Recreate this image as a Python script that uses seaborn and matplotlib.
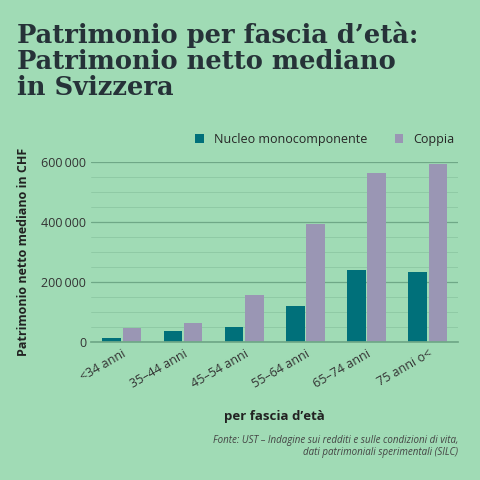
import matplotlib
matplotlib.use("Agg")
import matplotlib.pyplot as plt
import seaborn as sns
import pandas as pd
from matplotlib.ticker import MultipleLocator, FuncFormatter

categories = ["<34 anni", "35–44 anni", "45–54 anni", "55–64 anni", "65–74 anni", "75 anni o<"]
nucleo = [15000, 38000, 50000, 120000, 240000, 235000]
coppia = [48000, 65000, 158000, 395000, 565000, 595000]
series = ["Nucleo monocomponente", "Coppia"]

df = pd.DataFrame({
    "cat": categories * 2,
    "val": nucleo + coppia,
    "serie": [series[0]] * 6 + [series[1]] * 6,
})

bg = "#a0dbb5"
sns.set_theme(style="white")
plt.rcParams['font.family'] = ['Open Sans', 'DejaVu Sans']
fig = plt.figure(figsize=(4.8, 4.8), dpi=100, facecolor=bg)
ax = fig.add_axes([0.19, 0.287, 0.765, 0.375], facecolor=bg)
sns.barplot(data=df, x="cat", y="val", hue="serie", palette=["#00707a", "#9a96b4"],
            ax=ax, width=0.66, gap=0.08, saturation=1, linewidth=0, edgecolor="none")
ax.set_ylim(0, 600000)
ax.yaxis.set_major_locator(MultipleLocator(200000))
ax.yaxis.set_minor_locator(MultipleLocator(50000))
ax.yaxis.set_major_formatter(FuncFormatter(lambda v, p: f"{int(v):,}".replace(",", "\u2009") if v else "0"))
ax.grid(axis="y", which="major", color="#6fa887", lw=0.9)
ax.grid(axis="y", which="minor", color="#8cc7a2", lw=0.6)
ax.set_axisbelow(True)
for s in ["top", "right", "left"]:
    ax.spines[s].set_visible(False)
ax.spines["bottom"].set_color("#6fa887")
ax.tick_params(axis="both", labelsize=9, colors="#333333", length=0)
plt.setp(ax.get_xticklabels(), rotation=30, ha="right", rotation_mode="anchor")
ax.set_xlabel("per fascia d’età", fontsize=9.5, fontweight="bold", color="#222222", labelpad=14)
ax.set_ylabel("Patrimonio netto mediano in CHF", fontsize=9, fontweight="bold", color="#222222", labelpad=8)
ax.legend(loc="lower right", bbox_to_anchor=(1.02, 1.03), ncol=2, frameon=False, fontsize=9,
          handlelength=0.7, handleheight=0.7, columnspacing=2.2)
fig.text(0.035, 0.955, "Patrimonio per fascia d’età:\nPatrimonio netto mediano\nin Svizzera",
         fontsize=18.5, fontweight="bold", family="DejaVu Serif", color="#263238",
         va="top", linespacing=1.05)
fig.text(0.955, 0.045, "Fonte: UST – Indagine sui redditi e sulle condizioni di vita,\ndati patrimoniali sperimentali (SILC)",
         fontsize=7, style="italic", color="#444444", ha="right", va="bottom")
fig.savefig("out.png", dpi=100, facecolor=bg)
